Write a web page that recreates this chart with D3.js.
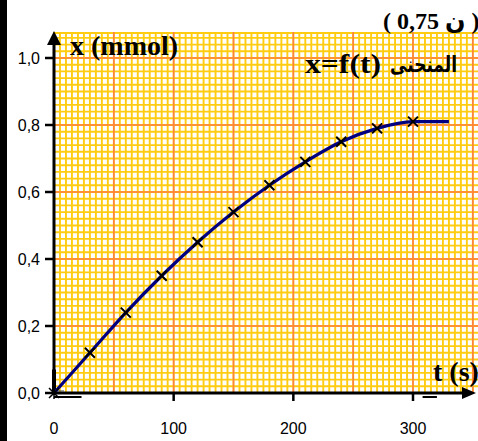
<!DOCTYPE html>
<html>
<head>
<meta charset="utf-8">
<script src="https://cdn.jsdelivr.net/npm/d3@7"></script>
<style>
  body { margin: 0; background: #fff; }
  svg { display: block; }
</style>
</head>
<body>
<svg id="chart" width="478" height="441"></svg>
<script>
// data
var t_vals = [0, 30, 60, 90, 120, 150, 180, 210, 240, 270, 300, 330];
var x_vals = [0, 0.12, 0.24, 0.35, 0.45, 0.54, 0.62, 0.69, 0.75, 0.79, 0.81, 0.81];
var marker_t = [30, 60, 90, 120, 150, 180, 210, 240, 270, 300];
var x_ticks = [100, 200, 300];
var x_tick_labels = ['0', '100', '200', '300'];
var y_ticks = [0, 0.2, 0.4, 0.6, 0.8, 1.0];
var y_tick_labels = ['0,0', '0,2', '0,4', '0,6', '0,8', '1,0'];

var svg = d3.select('#chart');
var W = 478, H = 441;

var x = d3.scaleLinear().domain([0, 300]).range([54, 413]);
var y = d3.scaleLinear().domain([0, 1]).range([393, 58]);

var tMax = x.invert(W), vMax = y.invert(32);

// left black bar
svg.append('rect').attr('x', 0).attr('y', 0).attr('width', 7).attr('height', H).attr('fill', '#000');

// millimetre paper
var grid = svg.append('g');
grid.append('rect')
    .attr('x', x(0)).attr('y', y(vMax))
    .attr('width', W - x(0)).attr('height', y(0) - y(vMax))
    .attr('fill', '#fff');

var minorT = d3.range(0, tMax, 5);
var minorV = d3.range(0.02, vMax, 0.02);
grid.selectAll('.mv').data(minorT).enter().append('line')
    .attr('x1', d => x(d)).attr('x2', d => x(d))
    .attr('y1', y(vMax)).attr('y2', y(0))
    .attr('stroke', '#ffcc11').attr('stroke-width', 1.9);
grid.selectAll('.mh').data(minorV).enter().append('line')
    .attr('x1', x(0)).attr('x2', W)
    .attr('y1', d => y(d)).attr('y2', d => y(d))
    .attr('stroke', '#ffcc11').attr('stroke-width', 1.9);
grid.append('line')
    .attr('x1', x(0)).attr('x2', W).attr('y1', y(vMax) + 1).attr('y2', y(vMax) + 1)
    .attr('stroke', '#ffcc11').attr('stroke-width', 2);

var majorT = d3.range(50, tMax, 50);
var majorV = [0.2, 0.4, 0.6, 0.8, 1.0];
grid.selectAll('.Mv').data(majorT).enter().append('line')
    .attr('x1', d => x(d)).attr('x2', d => x(d))
    .attr('y1', y(vMax)).attr('y2', y(0))
    .attr('stroke', '#ff8040').attr('stroke-width', 1.6);
grid.selectAll('.Mh').data(majorV).enter().append('line')
    .attr('x1', x(0)).attr('x2', W)
    .attr('y1', d => y(d)).attr('y2', d => y(d))
    .attr('stroke', '#ff8040').attr('stroke-width', 1.6);

// axes
svg.append('line').attr('x1', x(0)).attr('x2', 466).attr('y1', y(0)).attr('y2', y(0))
    .attr('stroke', '#000').attr('stroke-width', 3);
svg.append('line').attr('x1', x(0)).attr('x2', x(0) + 10).attr('y1', y(0) - 2).attr('y2', y(0) - 2)
    .attr('stroke', '#444').attr('stroke-width', 1);
svg.append('path').attr('d', 'M476,' + y(0) + ' L462,' + (y(0) - 6) + ' L462,' + (y(0) + 6) + 'Z').attr('fill', '#000');

svg.append('line').attr('x1', x(0)).attr('x2', x(0)).attr('y1', y(0)).attr('y2', 42)
    .attr('stroke', '#000').attr('stroke-width', 3);
svg.append('path').attr('d', 'M' + x(0) + ',31 L' + (x(0) - 7) + ',45 L' + (x(0) + 7) + ',45Z').attr('fill', '#000');
svg.append('line').attr('x1', x(0)).attr('x2', x(0)).attr('y1', y(0)).attr('y2', y(0.07))
    .attr('stroke', '#000').attr('stroke-width', 4);

// little dashes under the axis
svg.append('line').attr('x1', x(0)).attr('x2', x(23)).attr('y1', y(0) + 4).attr('y2', y(0) + 4)
    .attr('stroke', '#000').attr('stroke-width', 2);
svg.append('line').attr('x1', x(308)).attr('x2', x(320)).attr('y1', y(0) + 4).attr('y2', y(0) + 4)
    .attr('stroke', '#000').attr('stroke-width', 2);

// ticks
svg.selectAll('.yt').data(y_ticks).enter().append('line')
    .attr('x1', 45).attr('x2', x(0)).attr('y1', d => y(d)).attr('y2', d => y(d))
    .attr('stroke', '#000').attr('stroke-width', 2.5);
svg.selectAll('.xt').data(x_ticks).enter().append('line')
    .attr('x1', d => x(d)).attr('x2', d => x(d)).attr('y1', y(0)).attr('y2', y(0) + 8)
    .attr('stroke', '#000').attr('stroke-width', 2.5);

svg.selectAll('.yl').data(y_ticks).enter().append('text')
    .attr('x', 40).attr('y', d => y(d)).attr('dy', '0.36em')
    .attr('text-anchor', 'end')
    .attr('font-family', 'Liberation Sans, Arial, sans-serif').attr('font-size', 16)
    .text((d, i) => y_tick_labels[i]);
svg.selectAll('.xl').data([0].concat(x_ticks)).enter().append('text')
    .attr('x', d => x(d)).attr('y', 434)
    .attr('text-anchor', 'middle')
    .attr('font-family', 'Liberation Sans, Arial, sans-serif').attr('font-size', 16)
    .text((d, i) => x_tick_labels[i]);

// curve
var line = d3.line()
    .x((d, i) => x(t_vals[i]))
    .y(d => y(d))
    .curve(d3.curveMonotoneX);
svg.append('path').datum(x_vals).attr('d', line)
    .attr('fill', 'none').attr('stroke', '#000080').attr('stroke-width', 3.2);

// markers
var mk = svg.append('g');
marker_t.forEach(function (t) {
    var v = x_vals[t_vals.indexOf(t)];
    mk.append('path')
        .attr('d', 'M-5,-5L5,5M-5,5L5,-5')
        .attr('transform', 'translate(' + x(t) + ',' + y(v) + ')')
        .attr('stroke', '#000').attr('stroke-width', 2).attr('fill', 'none');
});
mk.append('path')
    .attr('d', 'M-5,-5L5,5M-5,5L5,-5M0,-6L0,6M-6,0L6,0')
    .attr('transform', 'translate(' + x(0) + ',' + y(0) + ')')
    .attr('stroke', '#000').attr('stroke-width', 1.5);

// texts
var serif = 'Liberation Serif, Times New Roman, DejaVu Sans, serif';
svg.append('text').attr('x', 70).attr('y', 55)
    .attr('font-family', serif).attr('font-weight', 'bold').attr('font-size', 28)
    .text('x (mmol)');
svg.append('text').attr('x', 433).attr('y', 381)
    .attr('font-family', serif).attr('font-weight', 'bold').attr('font-size', 28)
    .text('t (s)');
svg.append('text').attr('x', 305).attr('y', 73)
    .attr('font-family', serif).attr('font-weight', 'bold').attr('font-size', 28)
    .attr('textLength', 76).attr('lengthAdjust', 'spacingAndGlyphs')
    .text('x=f(t)');
svg.append('text').attr('x', 390).attr('y', 72)
    .attr('font-family', 'DejaVu Sans, sans-serif').attr('font-weight', 'bold').attr('font-size', 22)
    .attr('textLength', 67).attr('lengthAdjust', 'spacingAndGlyphs')
    .text('المنحنى');
svg.append('text').attr('x', 383).attr('y', 29)
    .attr('font-family', serif).attr('font-weight', 'bold').attr('font-size', 24)
    .text('( 0,75 ن )');
</script>
</body>
</html>
